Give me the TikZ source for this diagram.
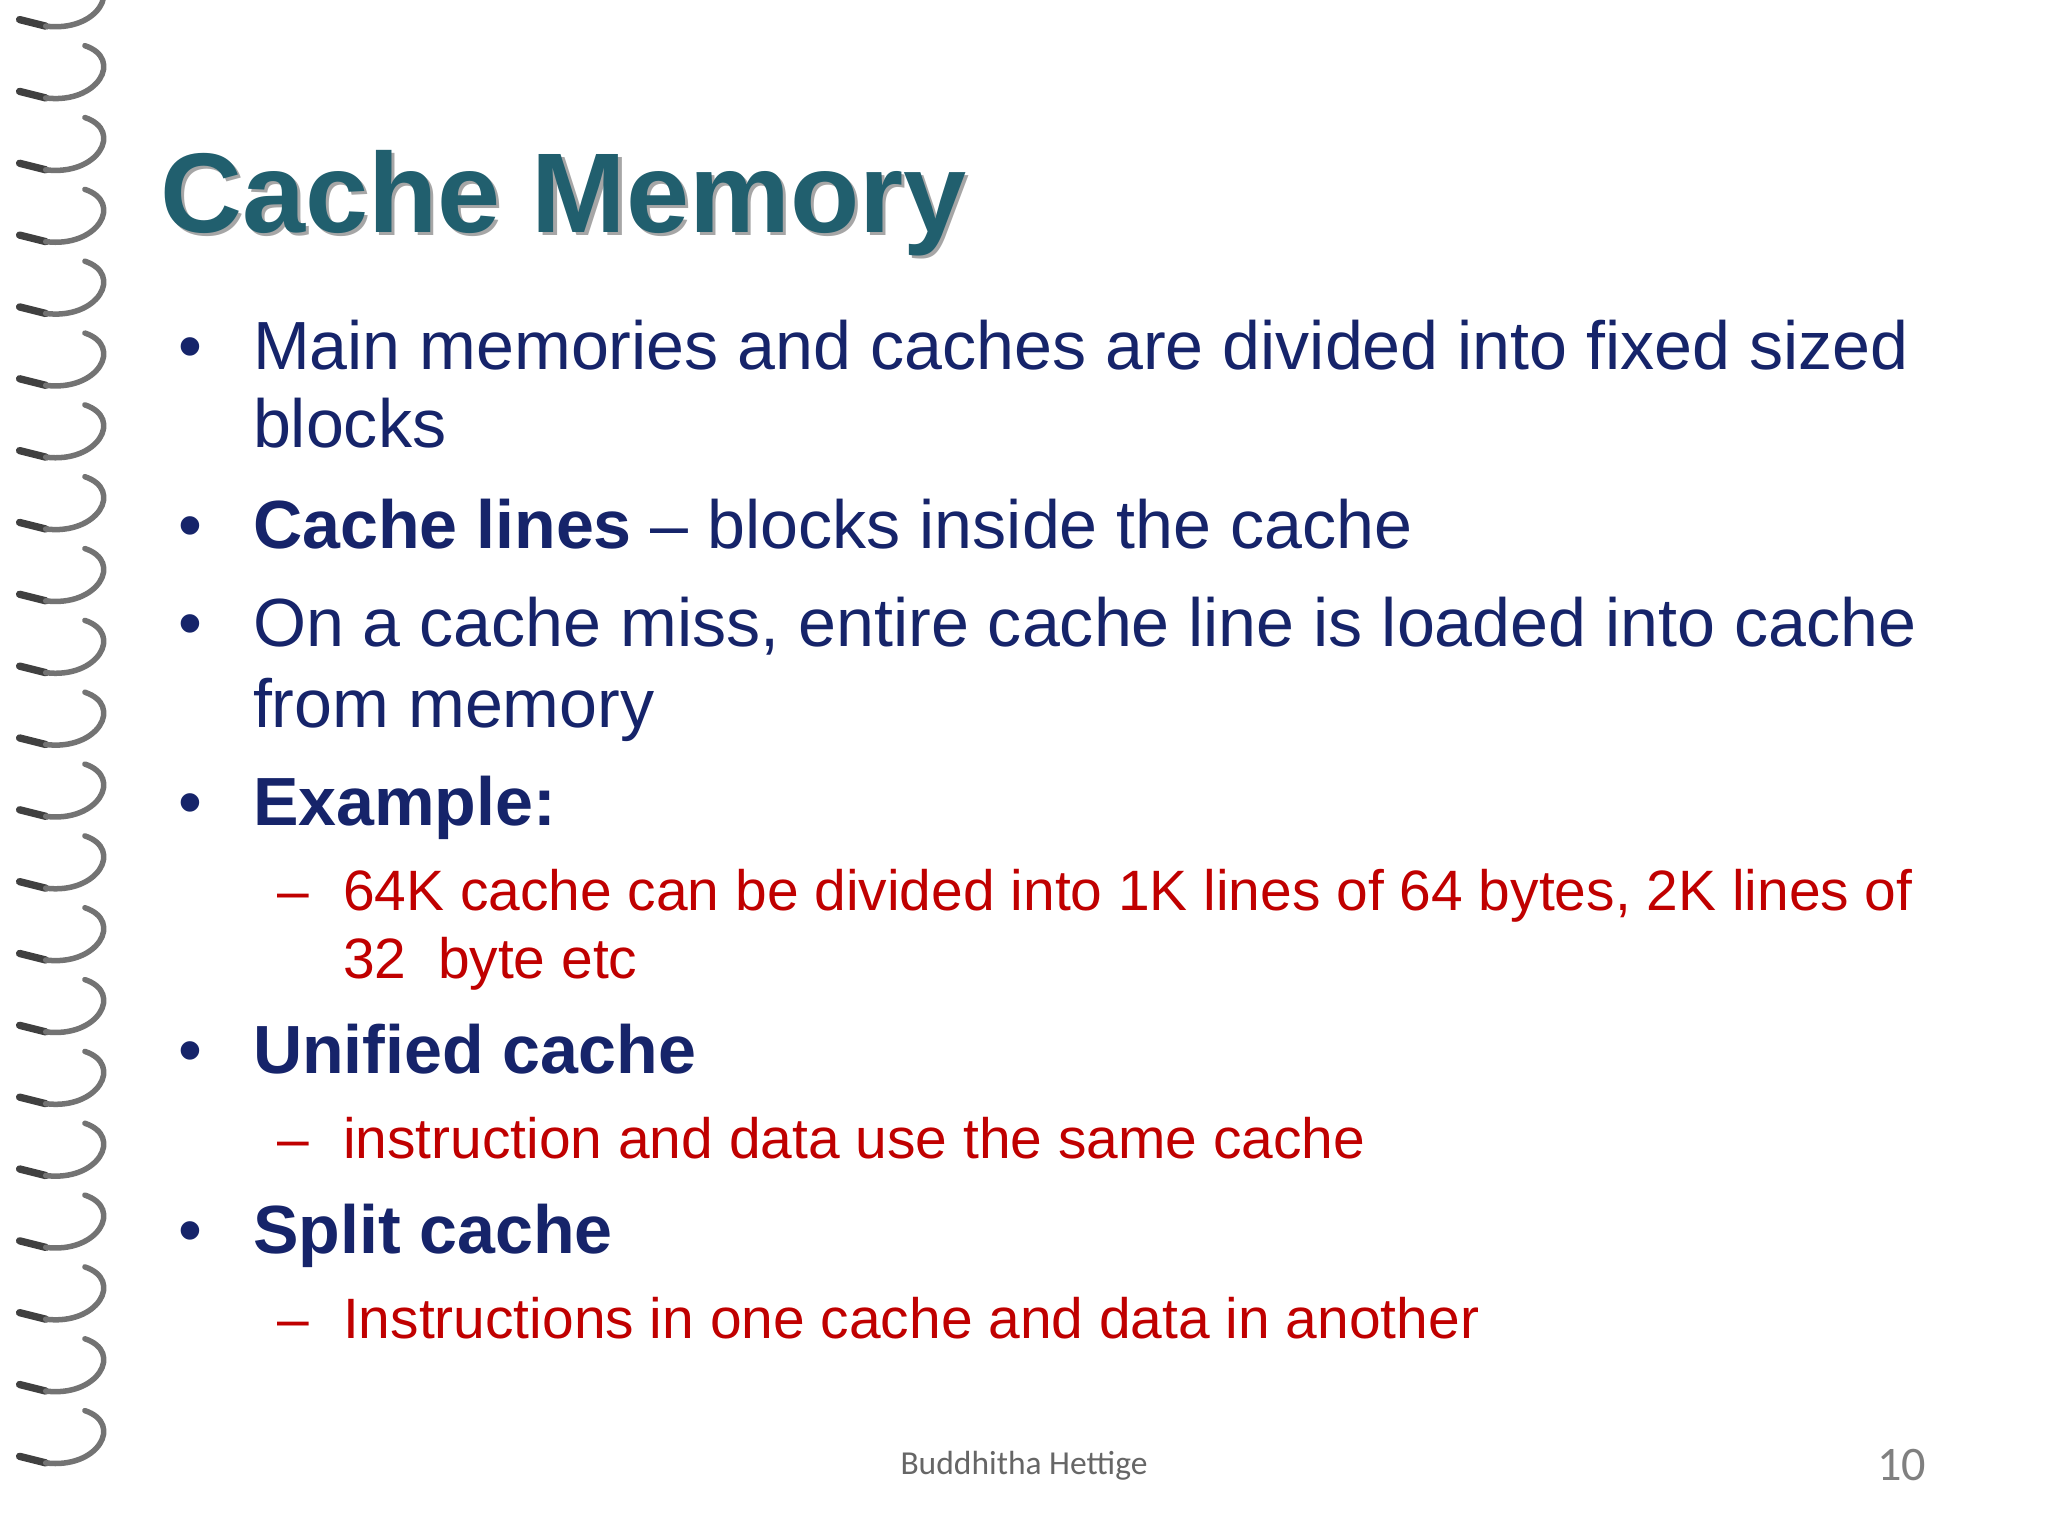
\documentclass[tikz,border=0pt]{standalone}
\usepackage{fontspec}
\setmainfont{Liberation Sans}
\newfontfamily\footfont{Carlito}
\definecolor{titlecol}{HTML}{215F6E}
\definecolor{navy}{HTML}{16246A}
\definecolor{redtxt}{HTML}{C00000}
\tikzset{
  bullet/.style={anchor=base west, font=\fontsize{14.85}{16}\selectfont, text=navy, inner sep=0pt},
  subline/.style={anchor=base west, font=\fontsize{12.4}{14}\selectfont, text=redtxt, inner sep=0pt},
  ring/.style={line width=1.6pt, black!75, line cap=round}
}
\begin{document}
\begin{tikzpicture}
    \useasboundingbox (0,0) rectangle (15.68,-11.76);

    % Spiral binding
    \foreach \y in {0.15,0.7,...,11.7} {
        \draw[ring] (0.15,-\y) -- (0.35,-\y-0.05);
        \draw[ring, black!55, line width=1.2pt] (0.35,-\y-0.05)
            .. controls (0.75,-\y-0.1) and (0.95,-\y+0.25) .. (0.65,-\y+0.35);
    }

    % Title
    \node[anchor=base west, font=\bfseries\fontsize{24.7}{28}\selectfont, text=black!35, inner sep=0pt]
        at (1.245,-1.805) {Cache Memory};
    \node[anchor=base west, font=\bfseries\fontsize{24.7}{28}\selectfont, text=titlecol, inner sep=0pt]
        (title) at (1.22,-1.78) {Cache Memory};

    % Bullets
    \foreach \yy in {2.83,4.2,4.95,6.32,8.22,9.6}
        \node[bullet] at (1.36,-\yy) {•};
    \node[bullet] (l1) at (1.93,-2.83) {Main memories and caches are divided into fixed sized};
    \node[bullet] (l2) at (1.93,-3.43) {blocks};
    \node[bullet] (l3) at (1.93,-4.2) {\textbf{Cache lines} – blocks inside the cache};
    \node[bullet] (l4) at (1.93,-4.95) {On a cache miss, entire cache line is loaded into cache};
    \node[bullet] (l5) at (1.93,-5.57) {from memory};
    \node[bullet] (l6) at (1.93,-6.32) {\textbf{Example:}};
    \node[subline] at (2.12,-6.97) {–};
    \node[subline] (s1) at (2.62,-6.97) {64K cache can be divided into 1K lines of 64 bytes, 2K lines of};
    \node[subline] (s2) at (2.62,-7.49) {32\ \ byte etc};
    \node[bullet] (l7) at (1.93,-8.22) {\textbf{Unified cache}};
    \node[subline] at (2.12,-8.87) {–};
    \node[subline] (s3) at (2.62,-8.87) {instruction and data use the same cache};
    \node[bullet] (l8) at (1.93,-9.6) {\textbf{Split cache}};
    \node[subline] at (2.12,-10.25) {–};
    \node[subline] (s4) at (2.62,-10.25) {Instructions in one cache and data in another};

    % Footer
    \node[font=\footfont\fontsize{7.3}{9}\selectfont, text=black!60] (foot) at (7.84,-11.22) {Buddhitha Hettige};
    \node[font=\footfont\fontsize{10.5}{12}\selectfont, text=black!50] (pnum) at (14.56,-11.22) {10};
\end{tikzpicture}
\end{document}
